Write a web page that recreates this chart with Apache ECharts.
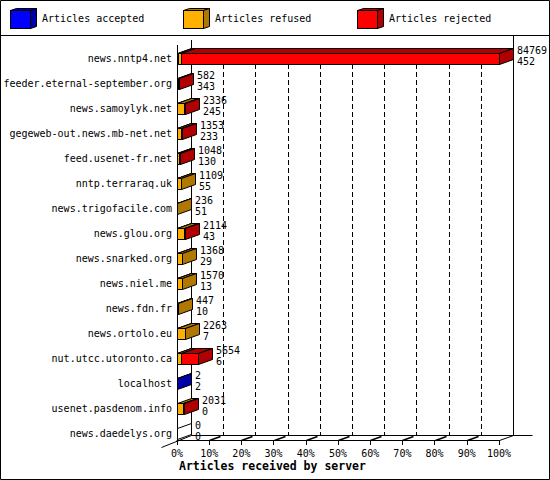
<!DOCTYPE html>
<html><head><meta charset="utf-8">
<script src="https://cdn.jsdelivr.net/npm/echarts@6/dist/echarts.min.js"></script>
<style>html,body{margin:0;padding:0;background:#fff}#c{width:550px;height:480px}</style>
</head><body><div id="c"></div>
<script>
const servers = ['news.nntp4.net','feeder.eternal-september.org','news.samoylyk.net','gegeweb-out.news.mb-net.net','feed.usenet-fr.net','nntp.terraraq.uk','news.trigofacile.com','news.glou.org','news.snarked.org','news.niel.me','news.fdn.fr','news.ortolo.eu','nut.utcc.utoronto.ca','localhost','usenet.pasdenom.info','news.daedelys.org'];
const offered  = [84769, 582, 2336, 1353, 1048, 1109, 236, 2114, 1368, 1570, 447, 2263, 5654, 2, 2031, 0];
const accepted = [452, 343, 245, 233, 130, 55, 51, 43, 29, 13, 10, 7, 6, 2, 0, 0];
const refused  = [800, 0, 1800, 1000, 500, 1054, 185, 2000, 1339, 1557, 437, 2256, 1300, 0, 1750, 0];
const rejected = [83517, 239, 291, 120, 418, 0, 0, 71, 0, 0, 0, 0, 4348, 0, 281, 0];
const seriesNames = ['Articles accepted', 'Articles refused', 'Articles rejected'];
const axisTitle = 'Articles received by server';

const FRONT = ['#0000ff', '#ffb000', '#ff0000'];
const DARK  = ['#0000a8', '#b07800', '#b00000'];
const DX = 14, DY = -5;
const FONT = '"DejaVu Sans Mono", monospace';

const maxOff = Math.max.apply(null, offered);
const pct = v => v / maxOff * 100;
const parts = [accepted, refused, rejected];
const lastIdx = servers.map((_, i) => rejected[i] > 0 ? 2 : refused[i] > 0 ? 1 : accepted[i] > 0 ? 0 : -1);

function segData(s) {
  return servers.map((_, i) => {
    let a = 0; for (let k = 0; k < s; k++) a += parts[k][i];
    const b = a + parts[s][i];
    const last = (lastIdx[i] === s) || (lastIdx[i] === -1 && s === 0) ? 1 : 0;
    return [i, pct(a), pct(b), last];
  });
}
const px = v => Math.round(v) + 0.5;
const pxf = v => Math.floor(v) + 0.5;

function segSeries(s) {
  return {
    type: 'custom', name: seriesNames[s], coordinateSystem: 'cartesian2d', z: 3,
    encode: { x: [1, 2], y: 0 },
    data: segData(s),
    renderItem: function (params, api) {
      const i = api.value(0), a = api.value(1), b = api.value(2), last = api.value(3);
      const p0 = api.coord([a, i]), p1 = api.coord([b, i]);
      const top = px(p0[1] - 6), bot = top + 11;
      const x0 = pxf(p0[0]), x1 = Math.max(x0, pxf(p1[0]));
      const empty = lastIdx[i] === -1;
      const ch = [];
      const st = (f) => ({ fill: f, stroke: '#000', lineWidth: 1 });
      if (b > a) {
        ch.push({ type: 'polygon', shape: { points: [[x0, top], [x1, top], [x1 + DX, top + DY], [x0 + DX, top + DY]] }, style: st(DARK[s]) });
        ch.push({ type: 'rect', shape: { x: x0, y: top, width: x1 - x0, height: bot - top }, style: st(FRONT[s]) });
      }
      if (last) {
        ch.push({ type: 'polygon', shape: { points: [[x1, top], [x1 + DX, top + DY], [x1 + DX, bot + DY], [x1, bot]] }, style: st(empty ? '#fff' : DARK[s]) });
      }
      return { type: 'group', children: ch };
    }
  };
}

const labelSeries = {
  type: 'custom', name: 'labels', coordinateSystem: 'cartesian2d', z: 4,
  encode: { x: 1, y: 0 },
  data: servers.map((_, i) => [i, pct(offered[i]), offered[i], accepted[i]]),
  renderItem: function (params, api) {
    const p = api.coord([api.value(1), api.value(0)]);
    const x = Math.floor(p[0]) + DX + 4;
    const ts = t => ({ text: String(t), fill: '#000', font: '10px ' + FONT, verticalAlign: 'middle', align: 'left' });
    return { type: 'group', children: [
      { type: 'text', x: x, y: p[1] - 8.5, style: ts(api.value(2)) },
      { type: 'text', x: x, y: p[1] + 3, style: ts(api.value(3)) }
    ] };
  }
};

const frameSeries = {
  type: 'custom', name: 'frame', coordinateSystem: 'cartesian2d', z: 1, silent: true,
  encode: { x: 0, y: 1 },
  data: [[0, 0]],
  renderItem: function (params, api) {
    const cs = params.coordSys;
    const xs = v => px(api.coord([v, 0])[0]);
    const floorF = px(cs.y + cs.height - 6), floorB = floorF + DY;
    const ls = { stroke: '#000', lineWidth: 1 };
    const L = (x1, y1, x2, y2, s) => ({ type: 'line', shape: { x1, y1, x2, y2 }, style: s || ls });
    const ch = [];
    for (let k = 10; k <= 90; k += 10) {
      ch.push(L(xs(k) + DX, cs.y + 2, xs(k) + DX, floorB, { stroke: '#000', lineWidth: 1, lineDash: [5, 3] }));
      ch.push(L(xs(k), floorF, xs(k) + 11, floorF - 4, { stroke: '#000', lineWidth: 1.6 }));
    }
    ch.push(L(xs(0) + DX, cs.y - 6, xs(0) + DX, floorB));
    ch.push(L(xs(100) + DX, cs.y - 10, xs(100) + DX, floorB));
    ch.push(L(xs(0) + DX, floorB, xs(100) + DX + 19, floorB));
    ch.push(L(xs(0), cs.y - 1, xs(0), floorF));
    ch.push(L(xs(100), floorF, xs(100) + DX, floorB));
    ch.push(L(xs(0) + DX, floorB, xs(0) - 16, floorF + 7));
    return { type: 'group', children: ch };
  }
};

function cube(front, dark) {
  const svg = '<svg xmlns="http://www.w3.org/2000/svg" width="27" height="21" viewBox="0 0 27 21">' +
    '<polygon points="0.5,2.5 6.5,0.5 26.5,0.5 20.5,2.5" fill="' + dark + '" stroke="#000"/>' +
    '<polygon points="20.5,2.5 26.5,0.5 26.5,18.5 20.5,20.5" fill="' + dark + '" stroke="#000"/>' +
    '<rect x="0.5" y="2.5" width="20" height="18" fill="' + front + '" stroke="#000"/></svg>';
  return 'image://data:image/svg+xml;charset=utf-8,' + encodeURIComponent(svg);
}
const legendLeft = [10, 183, 357];
const legends = seriesNames.map((n, s) => ({
  data: [{ name: n, icon: cube(FRONT[s], DARK[s]) }],
  left: legendLeft[s], top: 8, padding: 0, itemWidth: 27, itemHeight: 21, itemGap: 0, selectedMode: false,
  textStyle: { fontFamily: FONT, fontSize: 10, color: '#000', padding: [3, 0, 0, 0] }
}));

const chart = echarts.init(document.getElementById('c'), null, { renderer: 'svg' });
chart.setOption({
  animation: false,
  backgroundColor: '#fff',
  title: { text: axisTitle, left: 179, top: 460, padding: 0,
    textStyle: { fontFamily: FONT, fontWeight: 'bold', fontSize: 11.5, color: '#000' } },
  legend: legends,
  grid: { left: 177, right: 51, top: 46, bottom: 34, containLabel: false },
  xAxis: { type: 'value', min: 0, max: 100, interval: 10, offset: -6,
    axisLine: { show: true, lineStyle: { color: '#000', width: 1 } },
    axisTick: { show: true, length: 5, lineStyle: { color: '#000' } },
    axisLabel: { formatter: '{value}%', margin: 8, fontFamily: FONT, fontSize: 10, color: '#000' },
    splitLine: { show: false } },
  yAxis: { type: 'category', data: servers, inverse: true,
    axisLine: { show: false }, axisTick: { show: false }, splitLine: { show: false },
    axisLabel: { margin: 5, fontFamily: FONT, fontSize: 10, color: '#000', interval: 0 } },
  graphic: [
    { type: 'rect', shape: { x: 0.5, y: 0.5, width: 549, height: 479 }, style: { fill: null, stroke: '#000', lineWidth: 1 }, z: 100 },
    { type: 'line', shape: { x1: 0, y1: 35.5, x2: 550, y2: 35.5 }, style: { stroke: '#000', lineWidth: 1 }, z: 100 }
  ],
  series: [frameSeries, segSeries(0), segSeries(1), segSeries(2), labelSeries]
});
</script></body></html>
